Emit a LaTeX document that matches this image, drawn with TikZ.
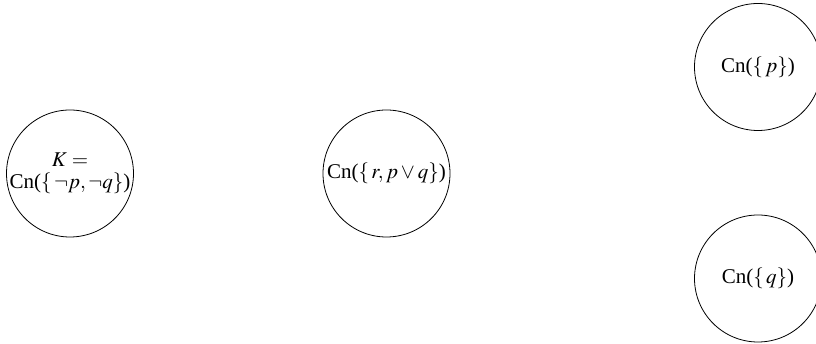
\documentclass[tikz,border=0pt]{standalone}
\usepackage{amsmath}
\usepackage{mathptmx}
\usepackage{fontspec}
\setmainfont{Liberation Serif}
\usepackage{tikz}

\begin{document}
\begin{tikzpicture}[x=1pt,y=1pt,
    theory/.style={draw,circle,line width=0.8pt,minimum size=127pt,inner sep=0pt,
      align=center,font=\fontsize{21}{22}\selectfont}]
    \useasboundingbox (0,0) rectangle (816,344);
    \node[theory] (k) at (70,170.5) {$K=$\\Cn($\{\,\neg p,\neg q\}$)};
    \node[theory] (rpq) at (386.5,170.5) {Cn($\{\,r, p\vee q\}$)};
    \node[theory] (p) at (758,277) {Cn($\{\,p\}$)};
    \node[theory] (q) at (758,65.5) {Cn($\{\,q\}$)};
\end{tikzpicture}
\end{document}
